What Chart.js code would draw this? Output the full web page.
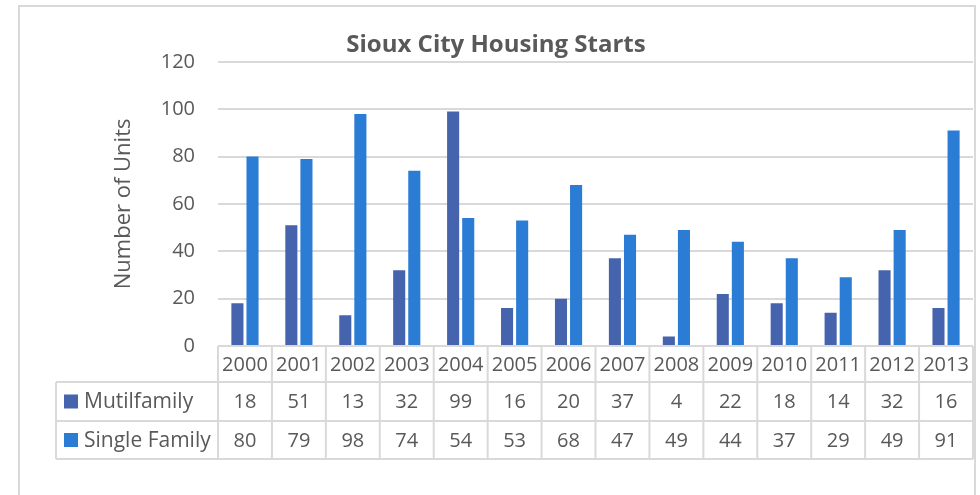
<!DOCTYPE html>
<html>
<head>
<meta charset="utf-8">
<script src="https://cdn.jsdelivr.net/npm/chart.js@4/dist/chart.umd.min.js"></script>
<style>
  html, body { margin: 0; padding: 0; background: #fff; }
  #wrap { width: 980px; height: 495px; }
</style>
</head>
<body>
<div id="wrap"><canvas id="chart" width="980" height="495"></canvas></div>
<script>
const years = ["2000", "2001", "2002", "2003", "2004", "2005", "2006", "2007", "2008", "2009", "2010", "2011", "2012", "2013"];
const multifamily = [18, 51, 13, 32, 99, 16, 20, 37, 4, 22, 18, 14, 32, 16];
const singleFamily = [80, 79, 98, 74, 54, 53, 68, 47, 49, 44, 37, 29, 49, 91];
const seriesNames = ["Mutilfamily", "Single Family"];
const yTicks = [0, 20, 40, 60, 80, 100, 120];

const textColor = '#595959';
const lineColor = '#d9d9d9';
const darkBlue = '#4664ad';
const lightBlue = '#2b7cd5';
const fontFamily = '"Open Sans", sans-serif';

// outer frame of the chart like the excel chart border
const framePlugin = {
  id: 'frame',
  beforeDraw(chart) {
    const ctx = chart.ctx;
    ctx.save();
    ctx.strokeStyle = lineColor;
    ctx.lineWidth = 2;
    ctx.strokeRect(19, 6, 956, 500);
    ctx.restore();
  }
};

// data table under the plot, columns follow the x scale
const tablePlugin = {
  id: 'dataTable',
  afterDraw(chart) {
    const ctx = chart.ctx;
    const xs = chart.scales.x;
    const area = chart.chartArea;
    const colW = (area.right - area.left) / years.length;
    const rowTops = [area.bottom, area.bottom + 36, area.bottom + 75, area.bottom + 113];
    const legendLeft = 56;
    const rows = [multifamily, singleFamily];
    const colors = [darkBlue, lightBlue];

    ctx.save();
    ctx.strokeStyle = lineColor;
    ctx.lineWidth = 2;

    // horizontal lines
    ctx.beginPath();
    ctx.moveTo(area.left, rowTops[0]); ctx.lineTo(area.right, rowTops[0]);
    for (let r = 1; r < rowTops.length; r++) {
      ctx.moveTo(legendLeft, rowTops[r]); ctx.lineTo(area.right, rowTops[r]);
    }
    // vertical lines
    for (let i = 0; i <= years.length; i++) {
      const x = area.left + i * colW;
      ctx.moveTo(x, rowTops[0]); ctx.lineTo(x, rowTops[3]);
    }
    ctx.moveTo(legendLeft, rowTops[1]); ctx.lineTo(legendLeft, rowTops[3]);
    ctx.stroke();

    ctx.fillStyle = textColor;
    ctx.font = '20px ' + fontFamily;
    ctx.textAlign = 'center';
    ctx.textBaseline = 'middle';
    years.forEach((y, i) => {
      const x = xs.getPixelForValue(i);
      ctx.fillText(y, x, (rowTops[0] + rowTops[1]) / 2 + 1);
      rows.forEach((vals, r) => {
        ctx.fillText(String(vals[i]), x, (rowTops[r + 1] + rowTops[r + 2]) / 2 + 1);
      });
    });

    ctx.textAlign = 'left';
    ctx.font = '21px ' + fontFamily;
    seriesNames.forEach((name, r) => {
      const cy = (rowTops[r + 1] + rowTops[r + 2]) / 2;
      ctx.fillStyle = colors[r];
      ctx.fillRect(64, cy - 7, 14, 14);
      ctx.fillStyle = textColor;
      ctx.fillText(name, 84, cy + 1);
    });
    ctx.restore();
  }
};

new Chart(document.getElementById('chart'), {
  type: 'bar',
  data: {
    labels: years,
    datasets: [
      { label: seriesNames[0], data: multifamily, backgroundColor: darkBlue },
      { label: seriesNames[1], data: singleFamily, backgroundColor: lightBlue }
    ]
  },
  options: {
    responsive: false,
    animation: false,
    layout: { padding: { left: 19, right: 7, top: 22, bottom: 149 } },
    datasets: { bar: { categoryPercentage: 0.56, barPercentage: 0.8 } },
    plugins: {
      legend: { display: false },
      tooltip: { enabled: false },
      title: {
        display: true,
        text: 'Sioux City Housing Starts',
        color: textColor,
        font: { family: fontFamily, size: 24, weight: 'bold' },
        padding: { top: 9, bottom: 2 }
      }
    },
    scales: {
      x: { display: false },
      y: {
        min: 0,
        max: 120,
        afterFit(scale) { scale.width = 199; },
        afterBuildTicks(scale) { scale.ticks = yTicks.map(v => ({ value: v })); },
        border: { display: false },
        grid: { color: lineColor, lineWidth: 2, drawTicks: false },
        ticks: {
          color: textColor,
          padding: 23,
          font: { family: fontFamily, size: 20 }
        },
        title: {
          display: true,
          text: 'Number of Units',
          color: textColor,
          font: { family: fontFamily, size: 22 },
          padding: { top: 92, bottom: 0 }
        }
      }
    }
  },
  plugins: [framePlugin, tablePlugin]
});
</script>
</body>
</html>
